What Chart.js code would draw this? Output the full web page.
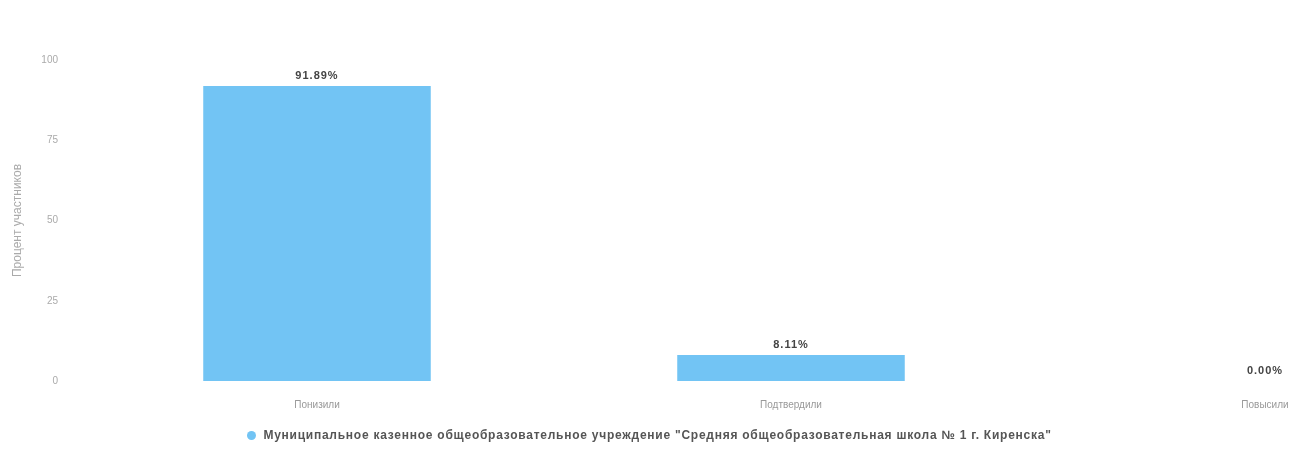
<!DOCTYPE html>
<html>
<head>
<meta charset="utf-8">
<script src="https://cdn.jsdelivr.net/npm/chart.js@4"></script>
<style>
  body { margin: 0; background: #fff; overflow: hidden; }
  #page { position: relative; width: 1299px; height: 450px; overflow: hidden; }
  #wrap { position: absolute; left: 0; top: 0; width: 1510px; height: 450px; }
  #legend { position: absolute; left: 0; width: 1299px; top: 428px; text-align: center;
            font: bold 12px "Liberation Sans", Arial, sans-serif; letter-spacing: 0.75px; color: #555; }
  #legend span.dot { display: inline-block; width: 9px; height: 9px; border-radius: 50%;
            margin-right: 7px; vertical-align: -1px; }
</style>
</head>
<body>
<div id="page">
  <div id="wrap"><canvas id="myChart"></canvas></div>
  <div id="legend"></div>
</div>
<script>
// values
const categories = ['Понизили', 'Подтвердили', 'Повысили'];
const percents = [91.89, 8.11, 0.00];
const yTicks = [0, 25, 50, 75, 100];
const seriesName = 'Муниципальное казенное общеобразовательное учреждение "Средняя общеобразовательная школа № 1 г. Киренска"';
const yTitle = 'Процент участников';
const barColor = '#72C4F4';

// draws "91.89%" etc above each bar
const valueLabels = {
    id: 'valueLabels',
    afterDatasetsDraw(chart) {
        const ctx = chart.ctx;
        ctx.save();
        ctx.font = 'bold 11px "Liberation Sans", Arial, sans-serif';
        ctx.letterSpacing = '1px';
        ctx.fillStyle = '#444';
        ctx.textAlign = 'center';
        ctx.textBaseline = 'middle';
        chart.getDatasetMeta(0).data.forEach((bar, i) => {
            ctx.fillText(percents[i].toFixed(2) + '%', bar.x, bar.y - 10);
        });
        ctx.restore();
    }
};

const ctx = document.getElementById('myChart').getContext('2d');
const myChart = new Chart(ctx, {
    type: 'bar',
    data: {
        labels: categories,
        datasets: [{
            label: seriesName,
            data: percents,
            backgroundColor: barColor,
            borderWidth: 0,
            categoryPercentage: 0.8,
            barPercentage: 0.6
        }]
    },
    options: {
        responsive: true,
        maintainAspectRatio: false,
        animation: false,
        layout: { padding: { top: 60, bottom: 34, right: 8 } },
        plugins: {
            legend: { display: false },
            tooltip: { enabled: false }
        },
        scales: {
            x: {
                grid: { display: false },
                border: { display: false },
                ticks: { color: '#999', font: { size: 10, family: 'Liberation Sans' }, padding: 10 },
                afterFit: (s) => { s.height = 35; }
            },
            y: {
                min: 0,
                max: 100,
                grid: { display: false },
                border: { display: false },
                afterBuildTicks: (s) => { s.ticks = yTicks.map(v => ({ value: v })); },
                ticks: { color: '#aaa', font: { size: 10, family: 'Liberation Sans' }, padding: 14 },
                title: { display: true, text: yTitle, color: '#aaa', padding: { top: 10, bottom: 4 },
                         font: { size: 12, family: 'Liberation Sans' } },
                afterFit: (s) => { s.width = 80; }
            }
        }
    },
    plugins: [valueLabels]
});

// html legend centred on the visible page
document.getElementById('legend').innerHTML =
    '<span class="dot" style="background:' + barColor + '"></span>' + seriesName;
</script>
</body>
</html>
